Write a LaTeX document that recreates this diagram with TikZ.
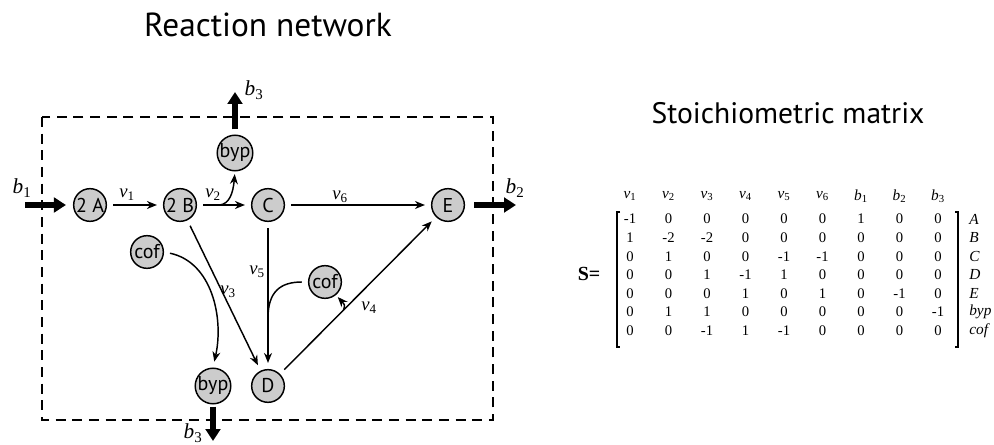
\documentclass[tikz,border=0pt]{standalone}
\usepackage{fontspec}
\setmainfont{Liberation Serif}
\newfontfamily\myriad{PT Sans}
\usetikzlibrary{arrows.meta,calc}
\newcommand\lab[2]{\textit{#1}\textsubscript{#2}}
\begin{document}
\begin{tikzpicture}[x=0.75pt,y=-0.75pt,
 species/.style={circle,draw,line width=1.1pt,fill=gray!40,minimum size=24.5pt,inner sep=0pt,font=\myriad\fontsize{15}{15}\selectfont},
 flux/.style={line width=1.1pt,-{Stealth[length=7.5pt,width=6pt]},shorten >=4.5pt,shorten <=4.5pt},
 plainflux/.style={line width=1.1pt,shorten <=4.5pt},
 exch/.style={line width=5.2pt,-{Triangle[length=9pt,width=11pt]}},
 vlab/.style={font=\fontsize{14}{14}\selectfont,inner sep=0pt},
 blab/.style={font=\fontsize{16}{16}\selectfont,inner sep=0pt},
 num/.style={font=\fontsize{11}{12}\selectfont,inner sep=0pt},
 hdr/.style={font=\fontsize{11.5}{12}\selectfont,inner sep=0pt},
 rowlab/.style={font=\fontsize{11.5}{12}\selectfont\itshape,inner sep=0pt,anchor=west},
 title/.style={font=\myriad\fontsize{25}{28}\selectfont,inner sep=0pt},
 boundary/.style={line width=1.1pt,dash pattern=on 7.5pt off 5pt}]
\useasboundingbox (0,0) rectangle (994,445);
% titles
\node[title] (t1) at (268,25) {Reaction network};
\node[title,font=\myriad\fontsize{22.2}{25}\selectfont] (t2) at (788,113) {Stoichiometric matrix};
% boundary
\draw[boundary] (42,117) rectangle (493,420);
% species
\node[species] (A2) at (90,205) {2 A};
\node[species] (B2) at (180,205) {2 B};
\node[species] (C) at (268,205) {C};
\node[species] (E) at (448,205) {E};
\node[species] (bypT) at (235,153) {byp};
\node[species] (cofL) at (147,252) {cof};
\node[species] (cofR) at (325,282) {cof};
\node[species] (bypB) at (213,386) {byp};
\node[species] (D) at (268,386) {D};
% exchange
\coordinate (b1s) at (25,205);
\coordinate (b2e) at (516,205);
\coordinate (b3te) at (235,92);
\coordinate (b3be) at (213,441);
\draw[exch] (b1s) -- ($(A2.west)+(-7,0)$);
\draw[exch] ($(E.east)+(9,0)$) -- (b2e);
\draw[exch] ($(bypT.north)+(0,-5)$) -- (b3te);
\draw[exch] ($(bypB.south)+(0,2)$) -- (b3be);
\node[blab] (lb1) at (22,188) {\lab{b}{1}};
\node[blab] (lb2) at (515,188) {\lab{b}{2}};
\node[blab] (lb3t) at (254,90) {\lab{b}{3}};
\node[blab] (lb3b) at (193,433) {\lab{b}{3}};
% reactions
\draw[flux] (A2) -- (B2);
\draw[flux] (B2) -- (C);
\coordinate (br2) at ($(B2)!0.45!(C)$);
\draw[line width=1.1pt,-{Stealth[length=7.5pt,width=6pt]},shorten >=2pt] (br2) .. controls (229,204) and (233,194) .. (bypT.south);
\draw[flux] (C) -- (E);
\draw[flux] (C) -- (D);
\coordinate (j5) at (268,318);
\draw[plainflux] (cofR.west) .. controls (280,282) and (268,292) .. (j5);
\draw[flux] (B2) -- (D);
\draw[flux] (cofL.east) .. controls (212,262) and (224,318) .. (bypB.north);
\draw[flux] (D) -- (E);
\coordinate (br4) at ($(D)!0.42!(E)$);
\draw[line width=1.1pt,-{Stealth[length=7.5pt,width=6pt]},shorten >=2pt] (br4) .. controls (345,305) .. (cofR.-50);
\node[vlab] (lv1) at (127,195) {\lab{v}{1}};
\node[vlab] (lv2) at (213,195) {\lab{v}{2}};
\node[vlab] (lv6) at (340,197) {\lab{v}{6}};
\node[vlab] (lv5) at (257,272) {\lab{v}{5}};
\node[vlab] (lv3) at (228,292) {\lab{v}{3}};
\node[vlab] (lv4) at (369,308) {\lab{v}{4}};
% matrix
\node[font=\fontsize{15}{15}\selectfont\bfseries,inner sep=0pt] (S) at (589,274) {S=};
\foreach \h [count=\c] in {{\lab{v}{1}},{\lab{v}{2}},{\lab{v}{3}},{\lab{v}{4}},{\lab{v}{5}},{\lab{v}{6}},{\lab{b}{1}},{\lab{b}{2}},{\lab{b}{3}}}
  \node[hdr] (h\c) at ({630+38.5*(\c-1)},196) {\h};
\foreach \rowvals [count=\r] in {{-1,0,0,0,0,0,1,0,0},{1,-2,-2,0,0,0,0,0,0},{0,1,0,0,-1,-1,0,0,0},{0,0,1,-1,1,0,0,0,0},{0,0,0,1,0,1,0,-1,0},{0,1,1,0,0,0,0,0,-1},{0,0,-1,1,-1,0,0,0,0}}
  \foreach \v [count=\c] in \rowvals
    \node[num] (m\r-\c) at ({630+38.5*(\c-1)},{219+18.6*(\r-1)}) {\v};
\foreach \nm [count=\r] in {A,B,C,D,E,byp,cof}
  \node[rowlab] (r\r) at (969,{219+18.6*(\r-1)}) {\nm};
\draw[line width=1.1pt] (620,212) -- (617,212) -- (617,347) -- (620,347);
\draw[line width=1.1pt] (955,212) -- (958,212) -- (958,347) -- (955,347);
\end{tikzpicture}
\end{document}
